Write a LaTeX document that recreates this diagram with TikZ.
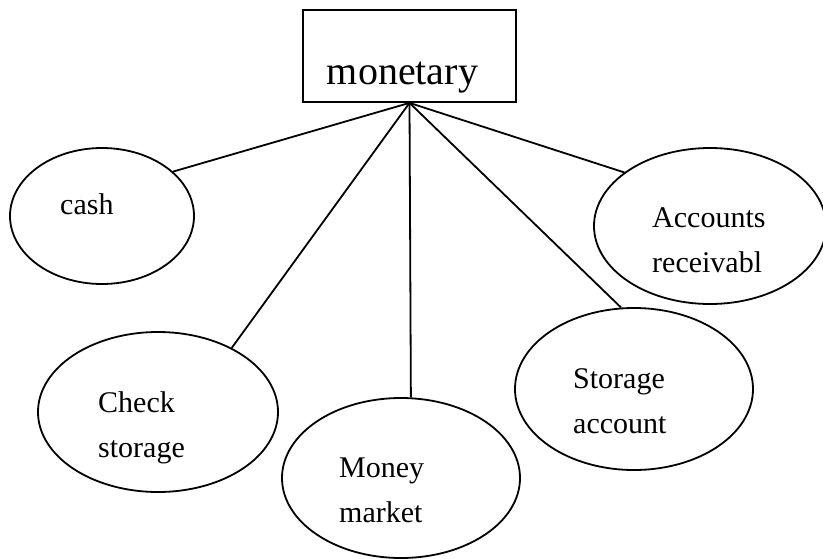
\documentclass[tikz,border=0pt]{standalone}
\usepackage{fontspec}
\setmainfont{Liberation Serif}
\usetikzlibrary{shapes.geometric}
\begin{document}
\begin{tikzpicture}[x=1pt,y=-1pt,
  oval/.style={draw, ellipse, line width=1.8pt, inner sep=0pt},
  topbox/.style={draw, rectangle, line width=1.8pt, inner sep=0pt},
  txt/.style={anchor=base west, inner sep=0pt, align=left,
    font=\fontsize{30}{45}\selectfont},
  link/.style={line width=1.8pt}]
\useasboundingbox (0,0) rectangle (823,558);

% root box
\node[topbox, minimum width=213pt, minimum height=92pt] (mon) at (409.5,56) {};
\node[anchor=base, inner sep=0pt, font=\fontsize{40}{48}\selectfont] (montxt) at (402.5,84) {monetary};

% categories
\node[oval, minimum width=184pt, minimum height=136pt] (cash) at (102,216) {};
\node[oval, minimum width=240pt, minimum height=160pt] (check) at (158,412) {};
\node[oval, minimum width=238pt, minimum height=160pt] (money) at (401,478) {};
\node[oval, minimum width=238pt, minimum height=162pt] (storage) at (634,389) {};
\node[oval, minimum width=232pt, minimum height=156pt] (accts) at (710,226) {};

\node[txt] (cashtxt) at (60,214) {cash};
\node[txt] (checktxt) at (98,457) {Check\\storage};
\node[txt] (moneytxt) at (339,522) {Money\\market};
\node[txt] (storagetxt) at (573,433) {Storage\\account};
\node[txt] (acctstxt) at (652,272) {Accounts\\receivabl};

% connectors
\draw[link] (mon.south) -- (cash.32.7);
\draw[link] (mon.south) -- (check.41.4);
\draw[link] (mon.south) -- (money.83.6);
\draw[link] (mon.south) -- (storage.99.7);
\draw[link] (mon.south) -- (accts.148.8);
\end{tikzpicture}
\end{document}
